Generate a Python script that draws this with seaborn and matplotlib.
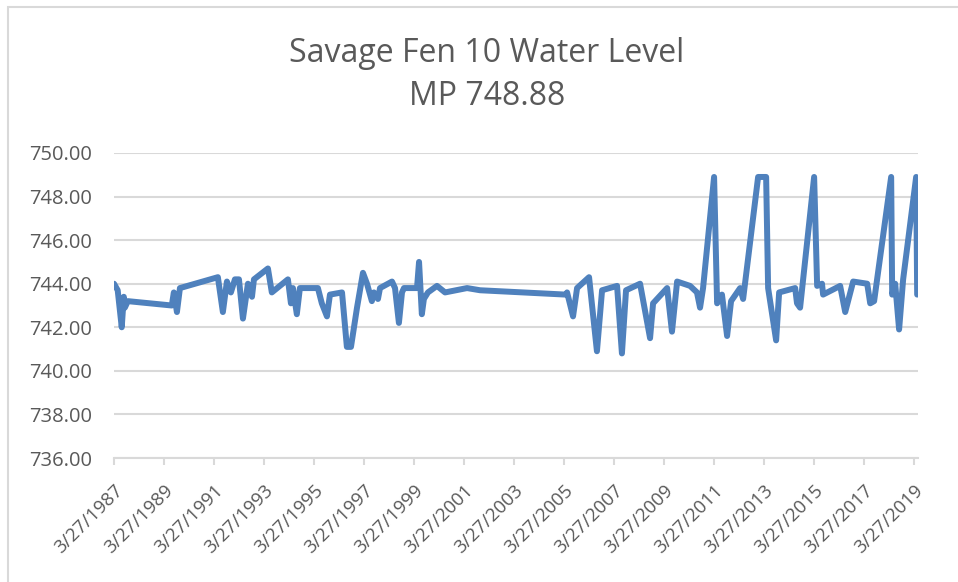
import pandas as pd
import matplotlib.pyplot as plt
from matplotlib.patches import Rectangle
import seaborn as sns

# Water level readings
dates = [
    '1987-03-27', '1987-05-20', '1987-07-18', '1987-08-17', '1987-09-01', '1987-10-15',
    '1989-07-18', '1989-08-17', '1989-10-01', '1989-11-14',
    '1991-05-22', '1991-08-03', '1991-10-01', '1991-11-28', '1992-01-26', '1992-03-25',
    '1992-05-22', '1992-08-03', '1992-10-01', '1992-10-30', '1993-05-22', '1993-07-18',
    '1994-03-10', '1994-04-23', '1994-05-22', '1994-07-18', '1994-09-01',
    '1995-05-22', '1995-07-18', '1995-10-01', '1995-11-14',
    '1996-05-08', '1996-07-18', '1996-09-16', '1996-12-13',
    '1997-03-10', '1997-05-08', '1997-07-18', '1997-08-17', '1997-10-15', '1997-11-14',
    '1998-05-08', '1998-06-21', '1998-08-17', '1998-10-01', '1998-10-30', '1998-12-13',
    '1999-05-08', '1999-06-07', '1999-07-18', '1999-08-17', '1999-10-15',
    '2000-02-24', '2000-06-21', '2001-05-08', '2001-11-14',
    '2005-04-22', '2005-05-08', '2005-08-03', '2005-10-01',
    '2006-03-25', '2006-07-18', '2006-10-01',
    '2007-05-08', '2007-07-18', '2007-09-16',
    '2008-04-08', '2008-09-01', '2008-10-15',
    '2009-05-08', '2009-07-18', '2009-10-01',
    '2010-04-08', '2010-07-18', '2010-09-01', '2010-10-15',
    '2011-03-25', '2011-05-08', '2011-07-18', '2011-10-01', '2011-11-28',
    '2012-04-08', '2012-05-22', '2012-12-27',
    '2013-04-23', '2013-05-22', '2013-09-16', '2013-10-30',
    '2014-06-21', '2014-07-18', '2014-09-01',
    '2015-03-25', '2015-05-08', '2015-07-18', '2015-08-03',
    '2016-04-08', '2016-06-21', '2016-10-15',
    '2017-05-08', '2017-06-21', '2017-08-17',
    '2018-04-23', '2018-05-08', '2018-06-21', '2018-08-17', '2018-10-15',
    '2019-04-23', '2019-05-08',
]
levels = [
    744.0, 743.7, 742.0, 743.4, 742.9, 743.2,
    743.0, 743.6, 742.7, 743.8,
    744.3, 742.7, 744.1, 743.6, 744.2, 744.2,
    742.4, 744.0, 743.4, 744.2, 744.7, 743.6,
    744.2, 743.1, 743.8, 742.6, 743.8,
    743.8, 743.1, 742.5, 743.5,
    743.6, 741.1, 741.1, 742.9,
    744.5, 744.0, 743.2, 743.6, 743.3, 743.8,
    744.1, 743.8, 742.2, 743.6, 743.8, 743.8,
    743.8, 745.0, 742.6, 743.3, 743.6,
    743.9, 743.6, 743.8, 743.7,
    743.5, 743.6, 742.5, 743.8,
    744.3, 740.9, 743.7,
    743.9, 740.8, 743.7,
    744.0, 741.5, 743.1,
    743.8, 741.8, 744.1,
    743.9, 743.6, 742.9, 743.8,
    748.9, 743.1, 743.5, 741.6, 743.2,
    743.8, 743.3, 748.9,
    748.9, 743.8, 741.4, 743.6,
    743.8, 743.1, 742.9,
    748.9, 743.9, 744.0, 743.5,
    743.9, 742.7, 744.1,
    744.0, 743.1, 743.2,
    748.9, 743.5, 744.0, 741.9, 744.2,
    748.9, 743.5,
]

tick_labels = ['3/27/%d' % y for y in range(1987, 2020, 2)]
y_ticks = [736, 738, 740, 742, 744, 746, 748, 750]

title = 'Savage Fen 10 Water Level\nMP 748.88'

df = pd.DataFrame({'date': pd.to_datetime(dates), 'level': levels})

sns.set_style('white')
plt.rcParams['font.family'] = ['Open Sans', 'DejaVu Sans']

grey = '#d9d9d9'
text_grey = '#595959'

fig = plt.figure(figsize=(9.58, 5.82), dpi=100)
ax = fig.add_axes([114 / 958, 1 - 458 / 582, (918 - 114) / 958, (458 - 153) / 582])

sns.lineplot(data=df, x='date', y='level', ax=ax, color='#4f81bd', linewidth=4.3,
             solid_joinstyle='round', solid_capstyle='round')

ax.set_ylim(736, 750)
ax.set_yticks(y_ticks)
ax.set_yticklabels(['%.2f' % v for v in y_ticks])
ax.set_xlim(pd.Timestamp('1987-03-27'), pd.Timestamp('2019-05-20'))
ax.set_xticks(pd.to_datetime(tick_labels, format='%m/%d/%Y'))
ax.set_xticklabels(tick_labels, rotation=45, ha='right', va='top', rotation_mode='anchor')
ax.set_xlabel('')
ax.set_ylabel('')

ax.grid(axis='y', color=grey, linewidth=1.5)
ax.set_axisbelow(True)
for side in ['top', 'right', 'left']:
    ax.spines[side].set_visible(False)
ax.spines['bottom'].set_color(grey)
ax.spines['bottom'].set_linewidth(1.5)

ax.tick_params(axis='y', length=0, pad=16, labelsize=14.5, labelcolor=text_grey)
ax.tick_params(axis='x', bottom=True, length=5, width=1.5, color=grey, pad=12,
               labelsize=13.5, labelcolor=text_grey)

fig.text(487 / 958, 1 - 75 / 582, title, ha='center', va='center', fontsize=23,
         color=text_grey, linespacing=1.38)

# chart frame
fig.patches.append(Rectangle((8 / 958, -0.1), 1.0, 1 - 7 / 582 + 0.1, transform=fig.transFigure,
                             fill=False, edgecolor=grey, linewidth=1.5))

fig.savefig('out.png', dpi=100)
